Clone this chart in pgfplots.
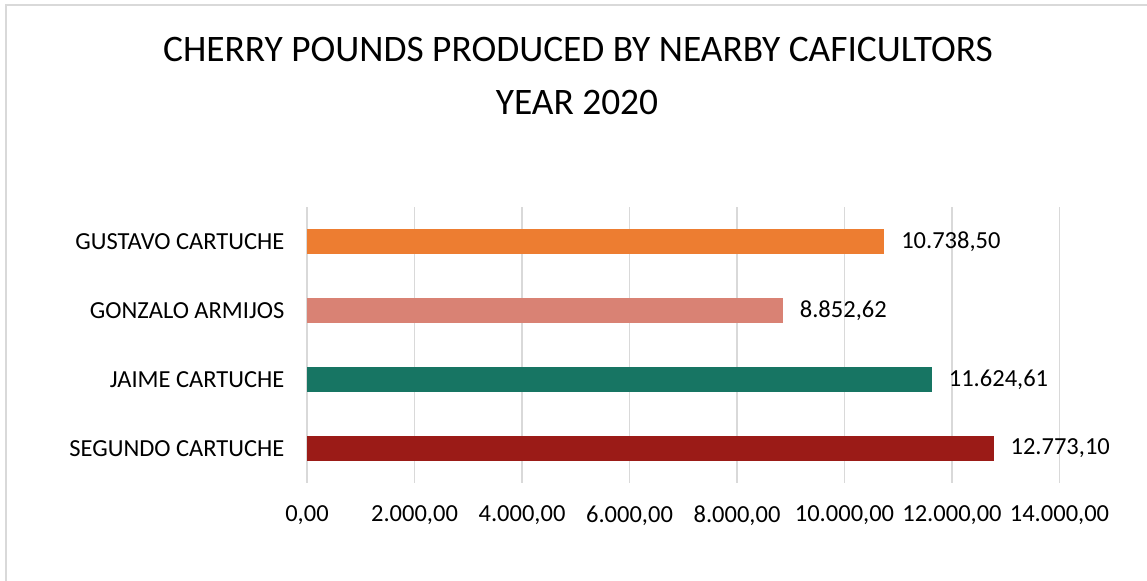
\documentclass[border=0pt]{standalone}
\usepackage{pgfplots}
\pgfplotsset{compat=1.18}
\usepackage{fontspec}
\setmainfont{Carlito}
\definecolor{cOrange}{HTML}{ED7D31}
\definecolor{cSalmon}{HTML}{D98274}
\definecolor{cTeal}{HTML}{177563}
\definecolor{cRed}{HTML}{9B1B17}
\definecolor{gridgray}{HTML}{D9D9D9}
\begin{document}
\begin{tikzpicture}[x=0.5pt,y=0.5pt]
\useasboundingbox (0,0) rectangle (1147,581);
\draw[gridgray, line width=1pt] (5.5,0) -- (5.5,575.5) -- (1147,575.5);
\node[anchor=base, font=\fontsize{18.7}{22}\selectfont, inner sep=0pt] at (578,519.3) {CHERRY POUNDS PRODUCED BY NEARBY CAFICULTORS};
\node[anchor=base, font=\fontsize{18.7}{22}\selectfont, inner sep=0pt] at (577,466) {YEAR 2020};
\begin{axis}[
  at={(153.5pt,49pt)}, anchor=south west,
  scale only axis, width=376.25pt, height=138pt,
  xbar, bar shift=0pt, bar width=0.362,
  xmin=0, xmax=14000, ymin=-0.5, ymax=3.5,
  clip=false, scaled x ticks=false,
  axis line style={draw=none}, tick style={draw=none},
  xmajorgrids, major grid style={color=gridgray, line width=0.75pt},
  xtick={0,2000,4000,6000,8000,10000,12000,14000},
  xticklabels={{0,00},{2.000,00},{4.000,00},{6.000,00},{8.000,00},{10.000,00},{12.000,00},{14.000,00}},
  ytick={0,1,2,3},
  yticklabels={SEGUNDO CARTUCHE, JAIME CARTUCHE, GONZALO ARMIJOS, GUSTAVO CARTUCHE},
  ticklabel style={font=\fontsize{12.25}{14}\selectfont},
  xticklabel style={yshift=-8pt},
  yticklabel style={xshift=-3.5pt},
  point meta=explicit symbolic,
  nodes near coords,
  nodes near coords style={font=\fontsize{12.25}{14}\selectfont, text=black, anchor=west, xshift=5pt},
]
\addplot[fill=cOrange, draw=none] table[x=x,y=y,meta=label]{
x y label
10738.50 3 10.738,50
};
\addplot[fill=cSalmon, draw=none] table[x=x,y=y,meta=label]{
x y label
8852.62 2 8.852,62
};
\addplot[fill=cTeal, draw=none] table[x=x,y=y,meta=label]{
x y label
11624.61 1 11.624,61
};
\addplot[fill=cRed, draw=none] table[x=x,y=y,meta=label]{
x y label
12773.10 0 12.773,10
};
\end{axis}
\end{tikzpicture}
\end{document}
